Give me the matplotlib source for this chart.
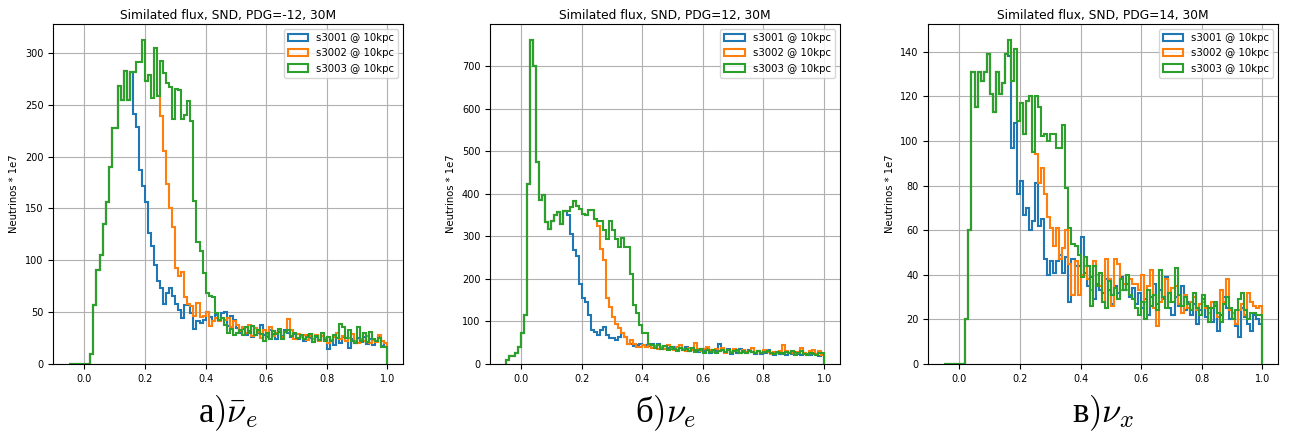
import numpy as np
import matplotlib
matplotlib.use("Agg")
import matplotlib.pyplot as plt

plt.rcParams['mathtext.fontset'] = 'cm'

bin_edges = np.round(np.arange(-0.05, 1.0001, 0.01), 3)
series_labels = ["s3001 @ 10kpc", "s3002 @ 10kpc", "s3003 @ 10kpc"]
colors = ["#1f77b4", "#ff7f0e", "#2ca02c"]
titles = ["Similated flux, SND, PDG=-12, 30M",
          "Similated flux, SND, PDG=12, 30M",
          "Similated flux, SND, PDG=14, 30M"]
bottom_labels = [r"а$)\bar{\nu}_e$", r"б$)\nu_e$", r"в$)\nu_x$"]
ylabel = "Neutrinos * 1e7"

# ---- panel 1: PDG=-12 (bins -0.05 .. 0.99 step 0.01) ----
s3001_m12 = [0, 0, 0, 0, 0, 0, 0, 10, 57, 91,
             105, 135, 156, 190, 228, 228, 268, 255, 283, 255,
             282, 241, 229, 187, 172, 156, 126, 114, 95, 80,
             73, 58, 68, 73, 66, 58, 52, 44, 57, 57,
             49, 34, 41, 40, 42, 50, 45, 41, 47, 42,
             49, 50, 37, 46, 42, 35, 30, 34, 28, 32,
             26, 35, 30, 38, 28, 26, 33, 29, 24, 31,
             27, 33, 30, 26, 29, 24, 27, 22, 28, 25,
             21, 26, 23, 27, 24, 14, 22, 18, 25, 20,
             26, 22, 15, 24, 20, 25, 21, 26, 19, 24,
             18, 22, 26, 17, 20]
s3002_m12 = [0, 0, 0, 0, 0, 0, 0, 10, 57, 91,
             105, 135, 156, 190, 228, 228, 268, 255, 283, 255,
             282, 282, 291, 291, 312, 273, 279, 257, 305, 258,
             239, 205, 174, 150, 132, 93, 85, 89, 65, 58,
             56, 46, 59, 45, 46, 50, 37, 41, 44, 41,
             44, 42, 44, 36, 41, 38, 32, 36, 30, 38,
             27, 35, 31, 25, 33, 28, 36, 27, 30, 33,
             26, 31, 43, 33, 24, 29, 26, 28, 23, 27,
             24, 28, 22, 27, 25, 20, 23, 26, 30, 24,
             27, 22, 25, 29, 22, 20, 24, 22, 27, 20,
             23, 21, 28, 22, 20]
s3003_m12 = [0, 0, 0, 0, 0, 0, 0, 10, 57, 91,
             105, 135, 156, 190, 228, 228, 268, 255, 283, 255,
             282, 282, 291, 291, 312, 273, 279, 257, 305, 258,
             292, 281, 271, 267, 236, 265, 264, 236, 240, 254,
             234, 157, 118, 109, 88, 68, 66, 65, 49, 42,
             44, 38, 30, 34, 28, 30, 33, 28, 36, 30,
             37, 28, 33, 29, 22, 30, 24, 32, 29, 34,
             24, 31, 33, 27, 30, 25, 28, 24, 26, 29,
             21, 27, 23, 30, 22, 26, 22, 28, 25, 39,
             36, 25, 33, 22, 20, 36, 22, 30, 21, 31,
             24, 22, 25, 16, 16]

# ---- panel 2: PDG=12 ----
s3001_p12 = [9, 19, 19, 25, 40, 72, 116, 423, 760, 700,
             474, 386, 398, 333, 318, 337, 349, 357, 329, 359,
             349, 306, 267, 253, 189, 154, 146, 115, 80, 76,
             68, 80, 87, 69, 62, 60, 56, 64, 72, 64,
             48, 47, 42, 44, 47, 44, 45, 42, 46, 40,
             47, 36, 43, 38, 35, 41, 33, 37, 34, 39,
             30, 36, 32, 28, 35, 31, 38, 27, 34, 30,
             48, 33, 29, 35, 24, 31, 27, 36, 29, 25,
             32, 28, 24, 30, 23, 27, 33, 26, 22, 29,
             24, 27, 22, 26, 23, 29, 24, 21, 27, 23,
             20, 25, 22, 19, 24]
s3002_p12 = [9, 19, 19, 25, 40, 72, 116, 423, 760, 700,
             474, 386, 398, 333, 318, 337, 349, 357, 329, 359,
             359, 368, 382, 372, 365, 353, 349, 362, 362, 341,
             325, 271, 244, 154, 134, 111, 95, 84, 72, 64,
             48, 56, 48, 41, 39, 45, 40, 44, 38, 42,
             36, 41, 35, 45, 38, 34, 40, 44, 36, 31,
             38, 33, 50, 36, 30, 35, 40, 32, 28, 36,
             31, 38, 27, 33, 29, 35, 30, 26, 33, 28,
             31, 37, 27, 30, 25, 32, 28, 24, 29, 26,
             31, 44, 30, 25, 27, 23, 28, 38, 26, 21,
             30, 33, 24, 30, 22]
s3003_p12 = [9, 19, 19, 25, 40, 72, 116, 423, 760, 700,
             474, 386, 398, 333, 318, 337, 349, 357, 329, 359,
             359, 368, 382, 372, 365, 353, 349, 362, 362, 341,
             337, 337, 315, 294, 337, 315, 294, 275, 297, 275,
             275, 212, 138, 119, 91, 72, 72, 48, 44, 38,
             44, 36, 42, 34, 40, 35, 30, 38, 32, 36,
             30, 37, 28, 33, 36, 27, 34, 29, 33, 27,
             31, 34, 28, 32, 26, 30, 33, 27, 30, 25,
             31, 28, 26, 30, 25, 28, 31, 26, 24, 29,
             26, 23, 28, 25, 30, 22, 27, 31, 24, 20,
             26, 23, 20, 25, 25]

# ---- panel 3: PDG=14 ----
s3001_p14 = [0, 0, 0, 0, 0, 0, 0, 20, 60, 131,
             115, 131, 127, 131, 139, 121, 113, 131, 121, 126,
             139, 138, 97, 108, 76, 82, 67, 70, 60, 64,
             81, 62, 65, 47, 40, 46, 41, 46, 49, 41,
             48, 28, 47, 44, 44, 57, 41, 35, 39, 29,
             36, 33, 32, 38, 33, 27, 35, 32, 39, 33,
             36, 30, 34, 27, 32, 25, 29, 22, 30, 36,
             27, 33, 29, 39, 25, 22, 30, 26, 35, 24,
             28, 22, 27, 18, 24, 29, 21, 25, 19, 26,
             15, 22, 30, 25, 20, 23, 17, 12, 25, 21,
             18, 15, 22, 20, 18]
s3002_p14 = [0, 0, 0, 0, 0, 0, 0, 20, 60, 131,
             115, 131, 127, 131, 139, 121, 113, 131, 121, 126,
             139, 145, 127, 141, 109, 117, 103, 118, 120, 95,
             94, 81, 88, 76, 66, 61, 53, 61, 47, 52,
             60, 45, 31, 46, 31, 40, 44, 38, 33, 46,
             40, 35, 28, 47, 38, 26, 47, 45, 33, 36,
             33, 38, 36, 36, 33, 40, 28, 35, 42, 25,
             17, 28, 30, 38, 28, 34, 35, 27, 23, 31,
             25, 28, 30, 24, 27, 28, 25, 23, 28, 27,
             21, 33, 28, 38, 24, 23, 18, 24, 27, 22,
             32, 28, 26, 25, 26]
s3003_p14 = [0, 0, 0, 0, 0, 0, 0, 20, 60, 131,
             115, 131, 127, 131, 139, 121, 113, 131, 121, 126,
             139, 145, 127, 141, 109, 117, 103, 118, 120, 95,
             120, 115, 102, 103, 100, 103, 103, 97, 97, 107,
             79, 61, 54, 53, 49, 39, 48, 44, 26, 44,
             35, 41, 28, 25, 37, 31, 34, 29, 38, 33,
             40, 31, 29, 25, 22, 28, 20, 33, 26, 31,
             24, 42, 30, 25, 32, 28, 43, 31, 26, 30,
             27, 24, 32, 25, 22, 31, 26, 19, 25, 28,
             23, 19, 27, 30, 25, 20, 24, 29, 32, 24,
             20, 23, 23, 22, 22]

panels = [
    [s3001_m12, s3002_m12, s3003_m12],
    [s3001_p12, s3002_p12, s3003_p12],
    [s3001_p14, s3002_p14, s3003_p14],
]

fig = plt.figure(figsize=(12.94, 4.34), dpi=100)
lefts = [53.3 / 1294, 490 / 1294, 928.3 / 1294]
width = 350 / 1294
bottom = (434 - 364) / 434
height = (364 - 24.3) / 434

centers = bin_edges[:-1] + 0.005
for k in range(3):
    ax = fig.add_axes([lefts[k], bottom, width, height])
    for vals, lab, col in zip(panels[k], series_labels, colors):
        ax.hist(centers, bins=bin_edges, weights=vals, histtype='step',
                color=col, linewidth=1.5, label=lab)
    ax.set_title(titles[k], fontsize=8.8, pad=4)
    ax.set_ylabel(ylabel, fontsize=7.2)
    ax.tick_params(labelsize=7)
    ax.set_xticks([0.0, 0.2, 0.4, 0.6, 0.8, 1.0])
    ax.grid(True, color='#b0b0b0', linewidth=0.8)
    ax.set_axisbelow(True)
    ax.legend(loc='upper right', fontsize=7.3)
    fig.text(lefts[k] + width / 2, 0.028, bottom_labels[k],
             family='Liberation Serif', fontsize=25,
             ha='center', va='baseline')

fig.savefig("out.png", dpi=100)
